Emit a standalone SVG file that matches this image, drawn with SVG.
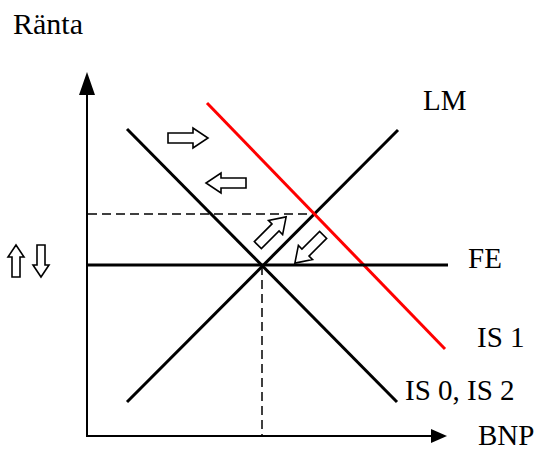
<svg xmlns="http://www.w3.org/2000/svg" width="537" height="454" viewBox="0 0 537 454">
<style>
.lbl{font-family:"Liberation Serif","Times New Roman",serif;font-size:29px;fill:#000}
.ln{stroke:#000;stroke-width:3;fill:none;stroke-linecap:butt}
.ax{stroke:#000;stroke-width:2;fill:none}
.dash{stroke:#000;stroke-width:1.5;stroke-dasharray:9 5;fill:none}
.blk{fill:#fff;stroke:#000;stroke-width:1.6;stroke-linejoin:miter}
</style>
<defs>
<path id="barrow" class="blk" d="M-20,-5 H5 V-10 L20,0 L5,10 V5 H-20 Z"/>
</defs>
<rect width="537" height="454" fill="#fff"/>
<g id="axes">
<line class="ax" x1="87" y1="437" x2="87" y2="92"/>
<polygon points="87,72 79,95 95,95" fill="#000"/>
<line class="ax" x1="86" y1="436" x2="433" y2="436"/>
<polygon points="447,436 431,429 431,443" fill="#000"/>
</g>
<g id="connectors">
<line class="dash" x1="88" y1="214" x2="316" y2="214"/>
<line class="dash" x1="262" y1="266" x2="262" y2="435"/>
</g>
<g id="LM">
<line class="ln" x1="127" y1="402" x2="398" y2="130"/>
<text class="lbl" x="423" y="110">LM</text>
</g>
<g id="IS0">
<line class="ln" x1="127" y1="129" x2="397" y2="402"/>
<text class="lbl" x="405" y="400">IS 0, IS 2</text>
</g>
<g id="IS1">
<line x1="207" y1="103" x2="445" y2="349" stroke="#ff0000" stroke-width="3"/>
<text class="lbl" x="477" y="347">IS 1</text>
</g>
<g id="FE">
<line class="ln" x1="87" y1="265" x2="448" y2="265"/>
<text class="lbl" x="468" y="268">FE</text>
</g>
<g id="labels">
<text class="lbl" x="13" y="34" style="font-size:30px">Ränta</text>
<text class="lbl" x="478" y="445">BNP</text>
</g>
<g id="shift-arrows">
<use href="#barrow" transform="translate(188,138)"/>
<use href="#barrow" transform="translate(226,183) rotate(180)"/>
<use href="#barrow" transform="translate(272,231) rotate(-45)"/>
<use href="#barrow" transform="translate(309,249) rotate(135)"/>
<path class="blk" d="M12,277 V257 H8 L16,245 L24,257 H20 V277 Z"/>
<path class="blk" d="M37,245 V265 H33 L41,277 L49,265 H45 V245 Z"/>
</g>
</svg>
